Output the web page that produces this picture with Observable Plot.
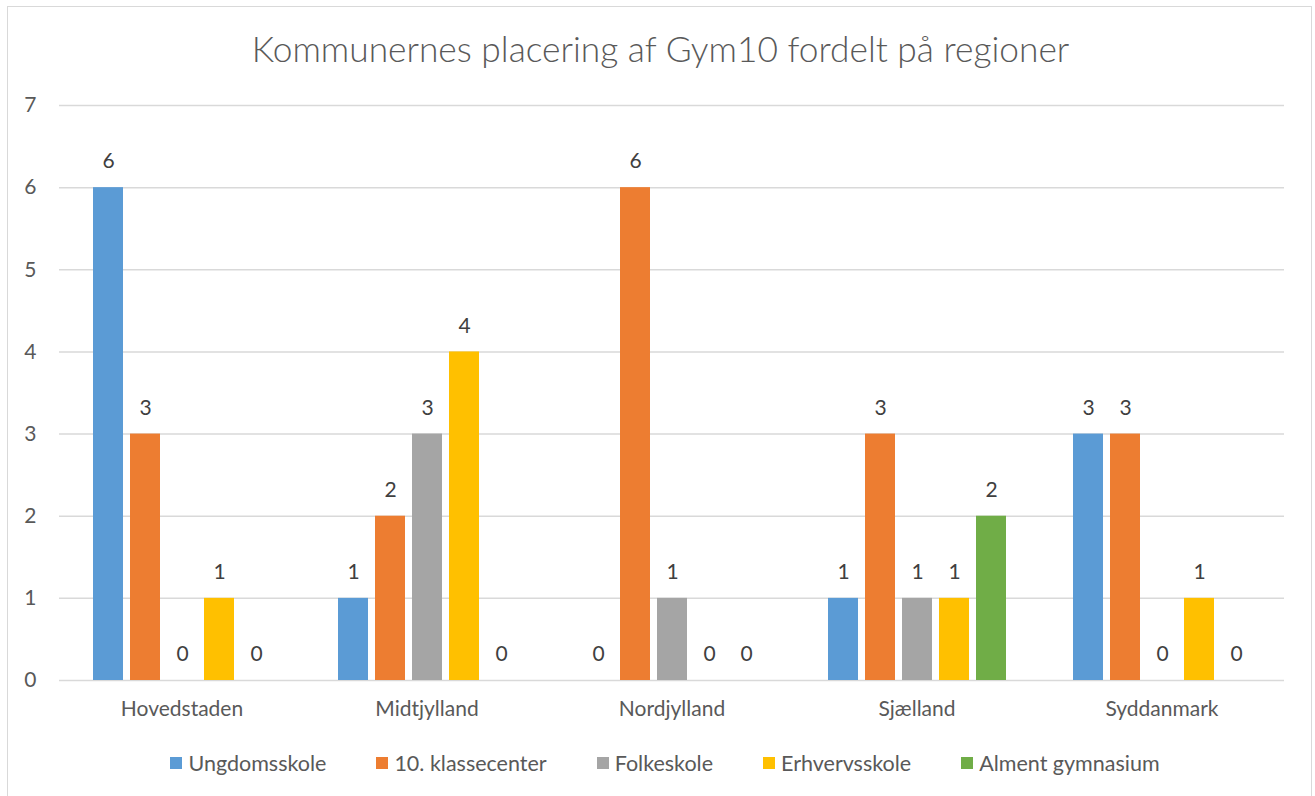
<!DOCTYPE html>
<html>
<head>
<meta charset="utf-8">
<script src="https://cdn.jsdelivr.net/npm/d3@7"></script>
<script src="https://cdn.jsdelivr.net/npm/@observablehq/plot@0.6"></script>
<style>
  html, body { margin: 0; padding: 0; background: #fff; overflow: hidden; }
  #wrap { position: relative; width: 1315px; height: 796px; font-family: Lato, "Open Sans", sans-serif; }
  #frame { position: absolute; left: 7px; top: 6px; width: 1305px; height: 820px; border: 1.5px solid #d9d9d9; box-sizing: border-box; }
  #title { position: absolute; left: 0; width: 1321px; top: 27px; text-align: center; font-size: 35.3px; font-weight: 300; color: #595959; }
  #chart { position: absolute; left: 0; top: 0; }
  #legend { position: absolute; left: 0; width: 1330px; top: 750px; display: flex; justify-content: center; gap: 50px; font-size: 21.5px; color: #595959; }
  .item { display: flex; align-items: center; }
  .sw { width: 12px; height: 12px; margin-right: 6px; }
</style>
</head>
<body>
<div id="wrap">
  <div id="frame"></div>
  <div id="chart"></div>
  <div id="title"></div>
  <div id="legend"></div>
</div>
<script>
const titleText = "Kommunernes placering af Gym10 fordelt på regioner";
const regions = ["Hovedstaden", "Midtjylland", "Nordjylland", "Sjælland", "Syddanmark"];
const seriesNames = ["Ungdomsskole", "10. klassecenter", "Folkeskole", "Erhvervsskole", "Alment gymnasium"];
const ungdomsskole = [6, 1, 0, 1, 3];
const klassecenter = [3, 2, 6, 3, 3];
const folkeskole = [0, 3, 1, 1, 0];
const erhvervsskole = [1, 4, 0, 1, 1];
const almentGymnasium = [0, 0, 0, 2, 0];
const seriesColors = ["#5B9BD5", "#ED7D31", "#A5A5A5", "#FFC000", "#70AD47"];
const yTicks = [0, 1, 2, 3, 4, 5, 6, 7];

const seriesValues = [ungdomsskole, klassecenter, folkeskole, erhvervsskole, almentGymnasium];
const data = regions.flatMap((r, i) => seriesNames.map((s, j) => ({region: r, series: s, value: seriesValues[j][i]})));

document.getElementById("title").textContent = titleText;

const chart = Plot.plot({
  width: 1315,
  height: 740,
  marginLeft: 59,
  marginRight: 31,
  marginTop: 105,
  marginBottom: 60,
  style: {fontFamily: "Lato, 'Open Sans', sans-serif", fontSize: "21px", color: "#595959", background: "transparent", overflow: "visible"},
  fx: {domain: regions, padding: 0, label: null, axis: "bottom", tickSize: 0, tickPadding: 21},
  x: {domain: seriesNames, paddingInner: 0.2, paddingOuter: 0.87, axis: null},
  y: {domain: [0, 7], ticks: yTicks, tickSize: 0, tickPadding: 23, label: null, tickFormat: d => String(d)},
  color: {domain: seriesNames, range: seriesColors},
  marks: [
    Plot.gridY(yTicks, {stroke: "#d9d9d9", strokeOpacity: 1, strokeWidth: 1.5}),
    Plot.barY(data, {fx: "region", x: "series", y: "value", fill: "series"}),
    Plot.text(data, {fx: "region", x: "series", y: "value", text: d => String(d.value), dy: -26, fill: "#404040", fontSize: 21})
  ]
});
document.getElementById("chart").appendChild(chart);

const legend = document.getElementById("legend");
seriesNames.forEach((s, i) => {
  const item = document.createElement("div");
  item.className = "item";
  const sw = document.createElement("div");
  sw.className = "sw";
  sw.style.background = seriesColors[i];
  const t = document.createElement("span");
  t.textContent = s;
  item.appendChild(sw);
  item.appendChild(t);
  legend.appendChild(item);
});
</script>
</body>
</html>
